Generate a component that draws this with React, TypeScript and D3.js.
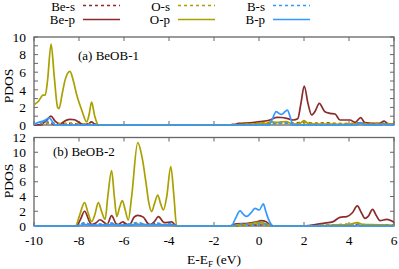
import React from "react";
import * as d3 from "d3";

type P = [number, number][];

// Panel (a) BeOB-1
const aBes: P = [[-10,0],[-9.5,0.1],[-9.3,0.3],[-9.1,0.05],[-8.6,0.15],[-8.3,0.2],[-8.0,0.05],[-7.5,0.1],[-7.1,0],[-1.3,0],[-1.0,0.15],[0,0.15],[0.8,0.25],[1.3,0.2],[2.0,0.3],[2.5,0.2],[3.0,0.25],[3.5,0.15],[4.0,0.15],[4.5,0.25],[5.0,0.1],[5.5,0.2],[6,0.05]];
const aBep: P = [[-10,0],[-9.7,0.05],[-9.45,0.5],[-9.25,1.0],[-9.05,0.4],[-8.85,0.1],[-8.6,0.5],[-8.4,0.65],[-8.2,0.6],[-8.0,0.3],[-7.8,0.05],[-7.6,0.1],[-7.45,0.35],[-7.3,0.1],[-7.1,0],[-1.2,0],[-0.84,0.19],[-0.4,0.25],[0.04,0.38],[0.49,0.57],[0.79,0.87],[1.0,0.85],[1.23,0.76],[1.53,0.57],[1.72,0.7],[1.86,2.4],[2.01,4.43],[2.18,2.4],[2.34,1.14],[2.5,1.6],[2.68,2.46],[2.93,1.5],[3.16,1.33],[3.38,1.25],[3.6,0.57],[4.04,0.57],[4.27,0.3],[4.52,0.83],[4.71,0.26],[5.08,0.19],[5.35,0.19],[5.56,0.45],[5.75,0.1],[6,0.08]];
const aOs: P = [[-10,0.1],[-9.3,0.2],[-8.5,0.15],[-7.5,0.1],[-7.1,0],[-1.2,0],[-0.5,0.08],[0.5,0.3],[0.8,0.2],[1.2,0.3],[1.5,0.1],[2.0,0.3],[2.5,0.15],[3.0,0.2],[3.5,0.15],[4.0,0.1],[4.5,0.2],[5.0,0.1],[5.5,0.15],[6,0.05]];
const aOp: P = [[-10,2.3],[-9.8,2.7],[-9.6,3.4],[-9.5,3.4],[-9.4,5.0],[-9.24,9.2],[-9.1,5.5],[-8.95,2.0],[-8.89,1.85],[-8.75,3.5],[-8.62,5.1],[-8.4,6.1],[-8.25,5.0],[-8.1,3.4],[-7.88,1.7],[-7.66,0.35],[-7.55,1.2],[-7.44,2.6],[-7.3,1.0],[-7.14,0],[-1.2,0],[-0.8,0.05],[-0.4,0.1],[0,0.1],[0.3,0.15],[0.55,0.35],[0.8,0.3],[1.0,0.35],[1.2,0.4],[1.4,0.2],[1.55,0.1],[1.8,0.15],[2.0,0.5],[2.2,0.15],[2.5,0.1],[3,0.1],[3.5,0.08],[4,0.1],[4.5,0.15],[5,0.08],[5.5,0.1],[6,0.05]];
const aBs: P = [[-10,0.05],[-9.7,0.25],[-9.4,0.4],[-9.2,0.3],[-9.0,0],[0.5,0],[0.8,0.2],[1.1,0.15],[1.3,0.25],[1.5,0],[4.3,0],[4.5,0.15],[4.7,0],[6,0]];
const aBp: P = [[-10,0.1],[-9.76,0.33],[-9.55,0.5],[-9.32,0.8],[-9.2,0.45],[-9.07,0],[0.45,0],[0.6,0.7],[0.76,1.52],[0.9,1.3],[1.01,1.21],[1.15,1.5],[1.26,1.7],[1.4,0.8],[1.52,0],[4.3,0],[4.52,0.26],[4.75,0],[5.4,0],[5.56,0.15],[5.7,0],[6,0]];

// Panel (b) BeOB-2
const bBes: P = [[-10,0],[-8.1,0],[-7.75,0.4],[-7.4,0.1],[-7.07,0.2],[-6.8,0.1],[-6.55,0.35],[-6.3,0.1],[-6.06,0.15],[-5.8,0.1],[-5.39,0.35],[-5.0,0.2],[-4.5,0.3],[-4.2,0.1],[-3.9,0.15],[-3.65,0],[-1.2,0],[-0.8,0.1],[-0.2,0.15],[0.3,0.2],[0.65,0],[2.0,0],[3.0,0.1],[4.0,0.15],[4.4,0.2],[5.0,0.1],[5.5,0.15],[6,0.1]];
const bBep: P = [[-10,0],[-8.15,0],[-7.95,0.8],[-7.75,2.0],[-7.55,0.7],[-7.45,0.2],[-7.25,0.4],[-7.07,0.85],[-6.85,0.4],[-6.75,0.2],[-6.55,1.4],[-6.35,0.3],[-6.25,0.2],[-6.06,0.55],[-5.85,0.2],[-5.75,0.2],[-5.55,1.2],[-5.39,1.45],[-5.14,1.2],[-4.95,0.4],[-4.84,0.2],[-4.65,0.6],[-4.47,1.27],[-4.2,0.45],[-3.88,0.55],[-3.75,0.2],[-3.65,0],[-1.3,0],[-1.0,0.3],[-0.5,0.36],[-0.1,0.55],[0.1,0.72],[0.3,0.6],[0.5,0.15],[0.7,0],[1.9,0],[2.5,0.2],[2.86,0.36],[3.3,0.6],[3.6,1.18],[3.9,1.27],[4.15,1.8],[4.37,2.72],[4.55,1.8],[4.71,1.04],[4.85,1.3],[5.05,2.26],[5.2,1.5],[5.38,0.72],[5.68,0.9],[6,0.5]];
const bOs: P = [[-10,0],[-8.1,0],[-7.75,0.3],[-7.3,0.15],[-6.55,0.25],[-6.0,0.1],[-5.39,0.3],[-4.8,0.15],[-4.3,0.2],[-3.65,0],[-1.2,0],[-0.5,0.15],[0,0.3],[0.3,0.2],[0.6,0],[2.0,0],[3.0,0.1],[4.37,0.3],[5.0,0.1],[6,0.1]];
const bOp: P = [[-10,0],[-8.15,0],[-8.0,1.2],[-7.75,3.17],[-7.6,1.8],[-7.44,0.6],[-7.3,1.5],[-7.14,3.17],[-7.0,2.0],[-6.84,0.9],[-6.72,4.0],[-6.55,7.5],[-6.43,4.0],[-6.32,1.27],[-6.2,2.5],[-6.07,3.44],[-5.95,2.2],[-5.81,0.8],[-5.66,4.0],[-5.39,11.3],[-5.19,9.2],[-5.02,5.8],[-4.9,3.2],[-4.77,1.95],[-4.65,3.0],[-4.5,4.2],[-4.37,3.0],[-4.25,2.17],[-4.1,4.0],[-3.92,8.06],[-3.78,4.0],[-3.66,0],[-1.2,0],[-1.0,0.15],[-0.6,0.2],[-0.3,0.35],[-0.1,0.5],[0.1,0.5],[0.3,0.3],[0.5,0.1],[0.7,0],[2.5,0],[3.0,0.1],[3.5,0.15],[4.0,0.2],[4.37,0.45],[4.6,0.2],[5.0,0.2],[5.5,0.15],[6,0.1]];
const bBs: P = [[-10,0],[-8.1,0],[-7.75,0.45],[-7.4,0.1],[-7.1,0.3],[-6.8,0.1],[-6.55,0.4],[-6.2,0.1],[-5.39,0.45],[-4.9,0.1],[-4.5,0.4],[-4.2,0.1],[-3.92,0.35],[-3.65,0],[-1.2,0],[-0.84,0.25],[-0.3,0.2],[0.2,0.3],[0.6,0],[6,0]];
const bBp: P = [[-10,0],[-8.1,0],[-7.75,0.2],[-7.3,0.1],[-6.55,0.2],[-6.0,0.1],[-5.39,0.2],[-4.5,0.15],[-3.92,0.15],[-3.65,0],[-1.3,0],[-1.21,0.05],[-1.05,1.0],[-0.84,2.04],[-0.7,1.6],[-0.55,1.3],[-0.35,1.8],[-0.18,2.4],[0.01,2.17],[0.19,2.99],[0.3,2.0],[0.41,1.0],[0.55,0.2],[0.64,0],[4.2,0],[4.37,0.1],[4.6,0],[6,0]];

const seriesNames = ["Be-s", "Be-p", "O-s", "O-p", "B-s", "B-p"];
const xTicks = [-10, -8, -6, -4, -2, 0, 2, 4, 6];
const yTicksA = d3.range(0, 11, 1);
const yTicksB = d3.range(0, 13, 2);
const panelLabels = ["(a) BeOB-1", "(b) BeOB-2"];

const colors = ["#8b2b2b", "#8b2b2b", "#aaa000", "#aaa000", "#3399ff", "#3399ff"];
const dashed = [true, false, true, false, true, false];
const FONT = "'Liberation Serif', Tinos, 'Nimbus Roman', 'Noto Serif', 'DejaVu Serif', serif";

export default function App() {
  const x = d3.scaleLinear().domain([-10, 6]).range([34, 394]);
  const yA = d3.scaleLinear().domain([0, 10]).range([125, 37]);
  const yB = d3.scaleLinear().domain([0, 12]).range([226, 137.5]);
  const panels = [
    { y: yA, data: [aBes, aBep, aOs, aOp, aBs, aBp], ticks: yTicksA, labelX: 78, labelY: 59.5, id: "ca", pdosY: 86 },
    { y: yB, data: [bBes, bBep, bOs, bOp, bBs, bBp], ticks: yTicksB, labelX: 53, labelY: 156, id: "cb", pdosY: 181 },
  ];
  const legendX = [75, 170, 265];
  const tf = { fontFamily: FONT } as React.CSSProperties;
  return (
    <svg width={399} height={269} style={{ position: "absolute", left: 0, top: 0, background: "#fff" }}>
      <defs>
        {panels.map((p) => (
          <clipPath id={p.id} key={p.id}>
            <rect x={34} y={p.y.range()[1] - 2} width={360} height={p.y.range()[0] - p.y.range()[1] + 3} />
          </clipPath>
        ))}
      </defs>
      {seriesNames.map((n, i) => {
        const col = Math.floor(i / 2);
        const row = i % 2;
        const lx = legendX[col];
        const ly = row === 0 ? 5.5 : 19.5;
        return (
          <g key={n}>
            <text style={tf} x={lx} y={row === 0 ? 10.5 : 23.5} textAnchor="end" fontSize={13}>{n}</text>
            <line x1={lx + 8} x2={lx + 45} y1={ly} y2={ly} stroke={colors[i]} strokeWidth={1.6} strokeDasharray={dashed[i] ? "3,3" : undefined} />
          </g>
        );
      })}
      {panels.map((p, pi) => {
        const line = d3.line<[number, number]>().x((d) => x(d[0])).y((d) => p.y(d[1])).curve(d3.curveMonotoneX);
        const [y0, y1] = p.y.range();
        return (
          <g key={p.id}>
            {p.ticks.map((t) => (
              <g key={"y" + t}>
                <line x1={34} x2={38} y1={p.y(t)} y2={p.y(t)} stroke="#666" strokeWidth={1} />
                <line x1={390} x2={394} y1={p.y(t)} y2={p.y(t)} stroke="#666" strokeWidth={1} />
                {t % 2 === 0 && (
                  <text style={tf} x={26} y={p.y(t)} dy="0.35em" textAnchor="end" fontSize={13.5}>{t}</text>
                )}
              </g>
            ))}
            {xTicks.map((t) => (
              <g key={"x" + t}>
                <line x1={x(t)} x2={x(t)} y1={y1} y2={y1 + 4} stroke="#666" strokeWidth={1} />
                <line x1={x(t)} x2={x(t)} y1={y0} y2={y0 - 4} stroke="#666" strokeWidth={1} />
              </g>
            ))}
            <rect x={34} y={y1} width={360} height={y0 - y1} fill="none" stroke="#666" strokeWidth={1.3} />
            <g clipPath={`url(#${p.id})`}>
              {p.data.map((d, i) => (
                <path key={i} d={line(d) || ""} fill="none" stroke={colors[i]} strokeWidth={1.7} strokeDasharray={dashed[i] ? "3,3" : undefined} strokeLinejoin="round" />
              ))}
            </g>
            <text style={tf} x={p.labelX} y={p.labelY} fontSize={13}>{panelLabels[pi]}</text>
            <text style={tf} transform={`translate(12.5,${p.pdosY}) rotate(-90)`} textAnchor="middle" fontSize={13.5}>PDOS</text>
          </g>
        );
      })}
      {xTicks.map((t) => (
        <text style={tf} key={"xl" + t} x={x(t)} y={245} textAnchor="middle" fontSize={13.5}>{t}</text>
      ))}
      <text style={tf} x={214} y={264} textAnchor="middle" fontSize={13.5}>
        E-E<tspan fontSize={9} dy={3}>F</tspan><tspan dy={-3}> (eV)</tspan>
      </text>
    </svg>
  );
}
